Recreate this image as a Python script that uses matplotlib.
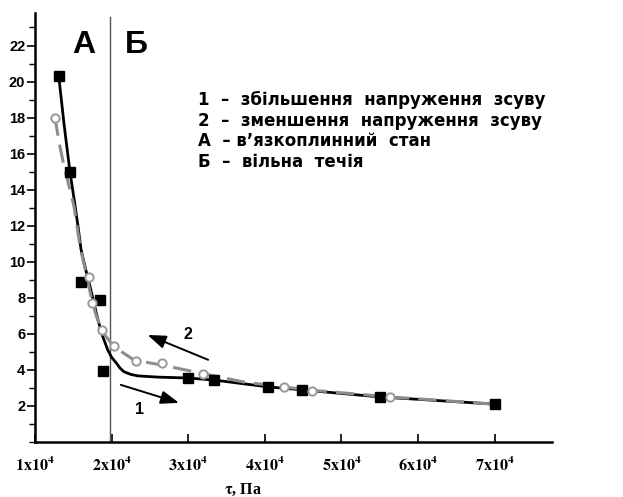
import matplotlib.pyplot as plt
from matplotlib.ticker import MultipleLocator

plt.rcParams["mathtext.fontset"] = "stix"

# shear stress, x10^4 Pa; viscosity-like values
up_x = [1.31, 1.456, 1.60, 1.85, 1.89, 3.00, 3.33, 4.04, 4.49, 5.50, 7.00]
up_y = [20.3, 15.0, 8.9, 7.9, 3.94, 3.55, 3.44, 3.06, 2.89, 2.50, 2.10]

down_x = [1.26, 1.70, 1.74, 1.88, 2.03, 2.32, 2.66, 3.19, 4.25, 4.62, 5.63]
down_y = [18.0, 9.15, 7.7, 6.2, 5.35, 4.5, 4.37, 3.78, 3.05, 2.85, 2.50]

# fitted curves as drawn in the source
up_fit_x = [1.31, 1.38, 1.456, 1.52, 1.56, 1.60, 1.66, 1.72, 1.77, 1.82, 1.88,
            1.95, 2.00, 2.06, 2.11, 2.16, 2.25, 2.34, 2.60, 3.00, 3.33, 4.04,
            4.49, 5.50, 7.00]
up_fit_y = [20.3, 17.6, 15.0, 13.2, 12.0, 10.7, 9.6, 8.6, 7.7, 6.8, 5.9,
            5.1, 4.7, 4.39, 4.1, 3.9, 3.75, 3.67, 3.6, 3.55, 3.44, 3.06,
            2.89, 2.5, 2.1]

down_fit_x = [1.26, 1.32, 1.38, 1.45, 1.51, 1.59, 1.67, 1.74, 1.80, 1.88,
              2.03, 2.29, 2.64, 3.16, 3.72, 4.25, 4.62, 5.63, 7.00]
down_fit_y = [18.0, 16.5, 15.3, 14.1, 13.05, 10.8, 9.3, 7.9, 7.0, 6.1,
              5.3, 4.55, 4.28, 3.83, 3.33, 3.05, 2.87, 2.5, 2.1]

boundary_x = 1.98

x_ticks = [1, 2, 3, 4, 5, 6, 7]
x_ticklabels = [r"$\mathbf{%dx10^{4}}$" % v for v in x_ticks]
y_ticks = [2, 4, 6, 8, 10, 12, 14, 16, 18, 20, 22]

legend_lines = [
    "1  –  збільшення  напруження  зсуву",
    "2  –  зменшення  напруження  зсуву",
    "А  – в’язкоплинний  стан",
    "Б  –  вільна  течія",
]


def main():
    fig = plt.figure(figsize=(6.23, 4.97), dpi=100)
    ax = fig.add_axes([0.0562, 0.1107, 0.830, 0.863])

    ax.plot(up_fit_x, up_fit_y, color="black", lw=2.0, zorder=3)
    ax.plot(down_fit_x, down_fit_y, color="#8c8c8c", lw=2.2,
            dashes=(6, 3), zorder=4)
    ax.plot(up_x, up_y, ls="none", marker="s", ms=7, color="black", zorder=5)
    ax.plot(down_x, down_y, ls="none", marker="o", ms=6, mfc="white",
            mec="#999999", mew=1.4, zorder=6)

    ax.axvline(boundary_x, ymax=0.99, color="#555555", lw=1.0, zorder=2)

    ax.set_xlim(1.0, 7.75)
    ax.set_ylim(0, 23.8)

    for side in ("top", "right"):
        ax.spines[side].set_visible(False)
    for side in ("left", "bottom"):
        ax.spines[side].set_linewidth(1.8)

    ax.set_xticks(x_ticks)
    ax.set_xticklabels(x_ticklabels, fontsize=11.5)
    ax.tick_params(axis="x", direction="in", length=6, width=1.2, pad=10)

    ax.set_yticks(y_ticks)
    ax.set_yticklabels([str(v) for v in y_ticks], fontsize=10.5,
                       fontweight="bold", family="Liberation Sans")
    ax.yaxis.set_minor_locator(MultipleLocator(1))
    ax.tick_params(axis="y", which="major", direction="out", length=6,
                   width=1.2, pad=1)
    ax.tick_params(axis="y", which="minor", direction="out", length=4,
                   width=1.0)

    # region letters
    ax.text(1.63, 22.05, "А", fontsize=23, fontweight="bold",
            family="Liberation Sans", ha="center", va="center")
    ax.text(2.32, 22.05, "Б", fontsize=23, fontweight="bold",
            family="Liberation Sans", ha="center", va="center")

    # direction arrows
    arrow = dict(arrowstyle="-|>,head_length=1.1,head_width=0.4",
                 color="black", lw=1.4, shrinkA=0, shrinkB=0)
    ax.annotate("", xy=(2.88, 2.17), xytext=(2.12, 3.17), arrowprops=arrow)
    ax.annotate("", xy=(2.47, 5.94), xytext=(3.26, 4.56), arrowprops=arrow)
    ax.text(2.37, 1.83, "1", fontsize=11.5, fontweight="bold",
            family="Liberation Sans", ha="center", va="center")
    ax.text(3.0, 5.94, "2", fontsize=11.5, fontweight="bold",
            family="Liberation Sans", ha="center", va="center")

    for i, line in enumerate(legend_lines):
        fig.text(198 / 623, 1 - (100 + 20.7 * i) / 497, line, fontsize=12,
                 fontweight="bold", family="DejaVu Sans",
                 ha="left", va="center")

    fig.text(243 / 623, 1 - 494 / 497, r"$\mathbf{\tau}$, Па", fontsize=11.5,
             fontweight="bold", family="Liberation Serif",
             ha="center", va="baseline")

    fig.savefig("out.png", dpi=100)


if __name__ == "__main__":
    main()
